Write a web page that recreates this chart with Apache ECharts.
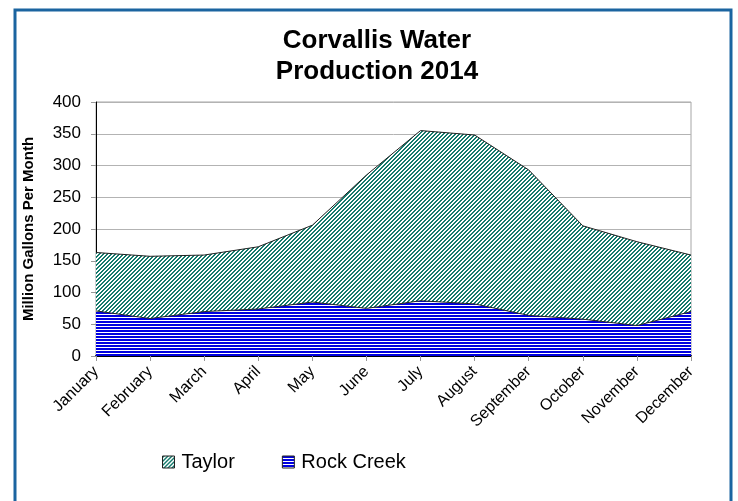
<!DOCTYPE html>
<html>
<head>
<meta charset="utf-8">
<script src="https://cdn.jsdelivr.net/npm/echarts@6/dist/echarts.min.js"></script>
<style>
html,body{margin:0;padding:0;background:#fff;}
#c{width:738px;height:501px;}
</style>
</head>
<body>
<div id="c"></div>
<script>
const months = ['January','February','March','April','May','June','July','August','September','October','November','December'];
const rockCreek = [71, 59, 70, 74, 85, 75, 87, 82, 64, 58, 48, 70];
const taylor = [92, 98, 89, 98, 121, 210, 268, 266, 229, 147, 132, 89];
const yTicks = [0, 50, 100, 150, 200, 250, 300, 350, 400];

function makeTaylorPattern() {
  const c = document.createElement('canvas');
  c.width = 4; c.height = 4;
  const ctx = c.getContext('2d');
  const img = ctx.createImageData(4, 4);
  for (let y = 0; y < 4; y++) for (let x = 0; x < 4; x++) {
    const i = (y * 4 + x) * 4;
    const on = ((x + y) % 4) < 2;
    img.data[i] = on ? 20 : 255;
    img.data[i+1] = on ? 122 : 255;
    img.data[i+2] = on ? 108 : 255;
    img.data[i+3] = 255;
  }
  ctx.putImageData(img, 0, 0);
  return c;
}
function makeRockPattern() {
  const c = document.createElement('canvas');
  c.width = 4; c.height = 3;
  const ctx = c.getContext('2d');
  ctx.fillStyle = '#ffffff';
  ctx.fillRect(0, 0, 4, 3);
  ctx.fillStyle = '#0000e0';
  ctx.fillRect(0, 0, 4, 2);
  return c;
}
const taylorPat = { image: makeTaylorPattern(), repeat: 'repeat' };
const rockPat = { image: makeRockPattern(), repeat: 'repeat' };
const FONT = 'Liberation Sans, Arial, sans-serif';

const chart = echarts.init(document.getElementById('c'), null, { renderer: 'canvas' });
chart.setOption({
  animation: false,
  backgroundColor: '#fff',
  title: {
    text: 'Corvallis Water\nProduction 2014',
    left: 372, top: 20, textAlign: 'center',
    textStyle: { fontFamily: FONT, fontWeight: 'bold', fontSize: 26, lineHeight: 31, color: '#000' }
  },
  legend: {
    left: 162, top: 452, padding: 0,
    itemWidth: 12, itemHeight: 12, itemGap: 47,
    textStyle: { fontFamily: FONT, fontSize: 20, color: '#000', padding: [0,0,0,2] },
    data: [
      { name: 'Taylor', icon: 'rect', itemStyle: { color: taylorPat, borderColor: '#222', borderWidth: 1 } },
      { name: 'Rock Creek', icon: 'rect', itemStyle: { color: rockPat, borderColor: '#222', borderWidth: 1 } }
    ]
  },
  grid: { left: 96, right: 47, top: 102, bottom: 145, show: true, borderColor: '#a6a6a6', borderWidth: 1, outerBoundsMode: 'none' },
  xAxis: {
    type: 'category', data: months, boundaryGap: false,
    axisLine: { lineStyle: { color: '#000', width: 2 } },
    axisTick: { show: true, length: 5, lineStyle: { color: '#999' } },
    axisLabel: { rotate: 45, fontFamily: FONT, fontSize: 16, color: '#000', margin: 13, interval: 0 }
  },
  yAxis: {
    type: 'value', min: yTicks[0], max: yTicks[yTicks.length-1], interval: 50,
    name: 'Million Gallons Per Month', nameLocation: 'middle', nameGap: 60,
    nameTextStyle: { fontFamily: FONT, fontWeight: 'bold', fontSize: 15, color: '#000' },
    axisLine: { show: true, lineStyle: { color: '#000', width: 1 } },
    axisTick: { show: true, length: 5, lineStyle: { color: '#999' } },
    axisLabel: { fontFamily: FONT, fontSize: 17, color: '#000', margin: 15 },
    splitLine: { lineStyle: { color: '#b3b3b3', width: 1 } }
  },
  series: [
    {
      name: 'Rock Creek', type: 'line', stack: 'total', data: rockCreek,
      symbol: 'none', lineStyle: { color: '#222', width: 1 },
      areaStyle: { color: rockPat, opacity: 1 }, itemStyle: { color: rockPat }
    },
    {
      name: 'Taylor', type: 'line', stack: 'total', data: taylor,
      symbol: 'none', lineStyle: { color: '#222', width: 1 },
      areaStyle: { color: taylorPat, opacity: 1 }, itemStyle: { color: taylorPat }
    }
  ],
  graphic: [
    { type: 'rect', shape: { x: 15, y: 10, width: 716, height: 510 }, style: { fill: 'none', stroke: '#1b64a0', lineWidth: 3 }, silent: true }
  ]
});
</script>
</body>
</html>
